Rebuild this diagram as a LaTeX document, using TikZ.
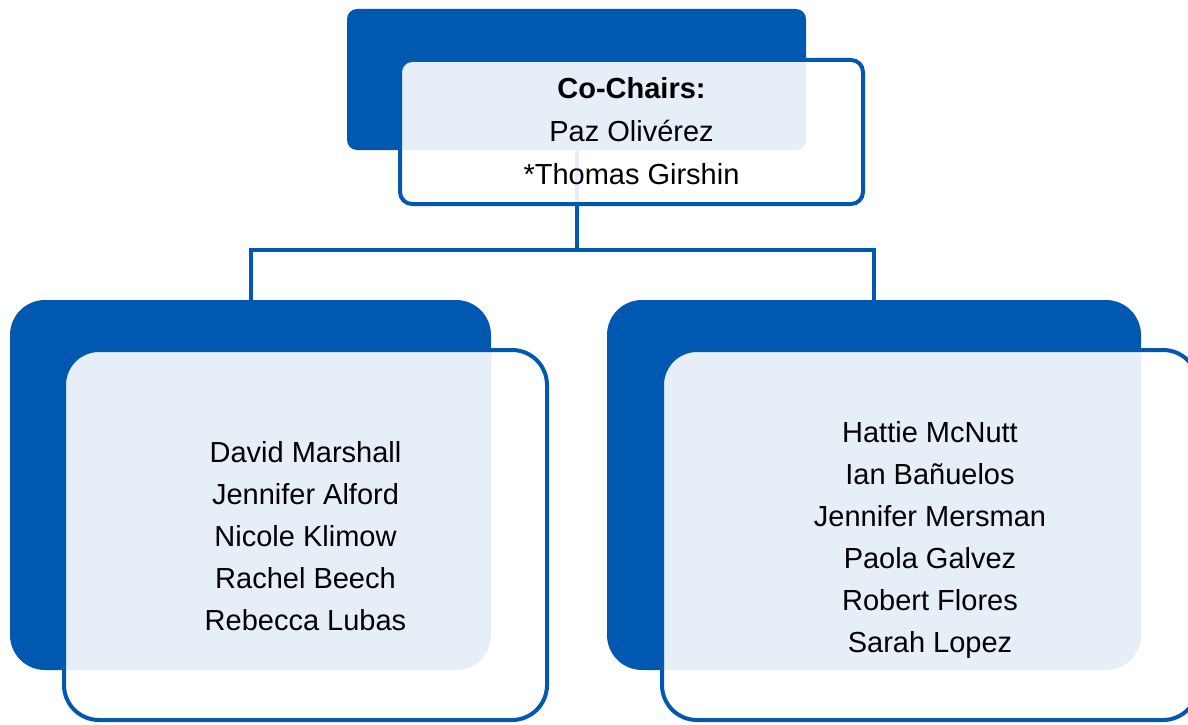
\documentclass[tikz,border=0pt]{standalone}
\usepackage{fontspec}
\setmainfont{Liberation Sans}
\definecolor{orgblue}{RGB}{1,88,176}
\begin{document}
\begin{tikzpicture}[x=1pt,y=-1pt,
  backbox/.style={rectangle, rounded corners=#1, fill=orgblue, draw=none,
    inner sep=0pt, outer sep=0pt},
  frontbox/.style={rectangle, rounded corners=#1, draw=orgblue, line width=4pt,
    fill=white, fill opacity=0.9, text opacity=1, inner sep=0pt, outer sep=0pt},
  names/.style={align=center, inner sep=0pt, font=\fontsize{29}{42}\selectfont},
  link/.style={draw=orgblue, line width=4pt}]
\useasboundingbox (0,0) rectangle (1188,725);
\clip (0,0) rectangle (1188,725);

% coloured back panels
\node[backbox=10pt, minimum width=459pt, minimum height=141pt] (topdark) at (576.5,79.5) {};
\node[backbox=35pt, minimum width=481pt, minimum height=370pt] (leftdark) at (250.5,485) {};
\node[backbox=35pt, minimum width=534pt, minimum height=370pt] (rightdark) at (874,485) {};

% hierarchy connectors
\coordinate (bus) at (576.5,250);
\draw[link] (topdark.south) -- (bus);
\draw[link] ([yshift=-5pt]leftdark.north) |- (bus) -| ([yshift=-5pt]rightdark.north);

% translucent front panels
\node[frontbox=12pt, minimum width=463pt, minimum height=144pt] (chairs) at (631.5,132) {};
\node[frontbox=35pt, minimum width=483pt, minimum height=370pt] (leftgroup) at (305.5,535) {};
\node[frontbox=35pt, minimum width=536pt, minimum height=370pt] (rightgroup) at (930,535) {};

% member names (yshift is in page units, pointing up)
\node[names, font=\fontsize{29}{43}\selectfont] (chairnames) at ([yshift=1pt]chairs.center)
  {\textbf{Co-Chairs:}\\Paz Olivérez\\*Thomas Girshin};
\node[names] (leftnames) at ([yshift=-1.5pt]leftgroup.center)
  {David Marshall\\Jennifer Alford\\Nicole Klimow\\Rachel Beech\\Rebecca Lubas};
\node[names] (rightnames) at ([yshift=-5pt]rightgroup.center)
  {Hattie McNutt\\Ian Bañuelos\\Jennifer Mersman\\Paola Galvez\\Robert Flores\\Sarah Lopez};
\end{tikzpicture}
\end{document}
